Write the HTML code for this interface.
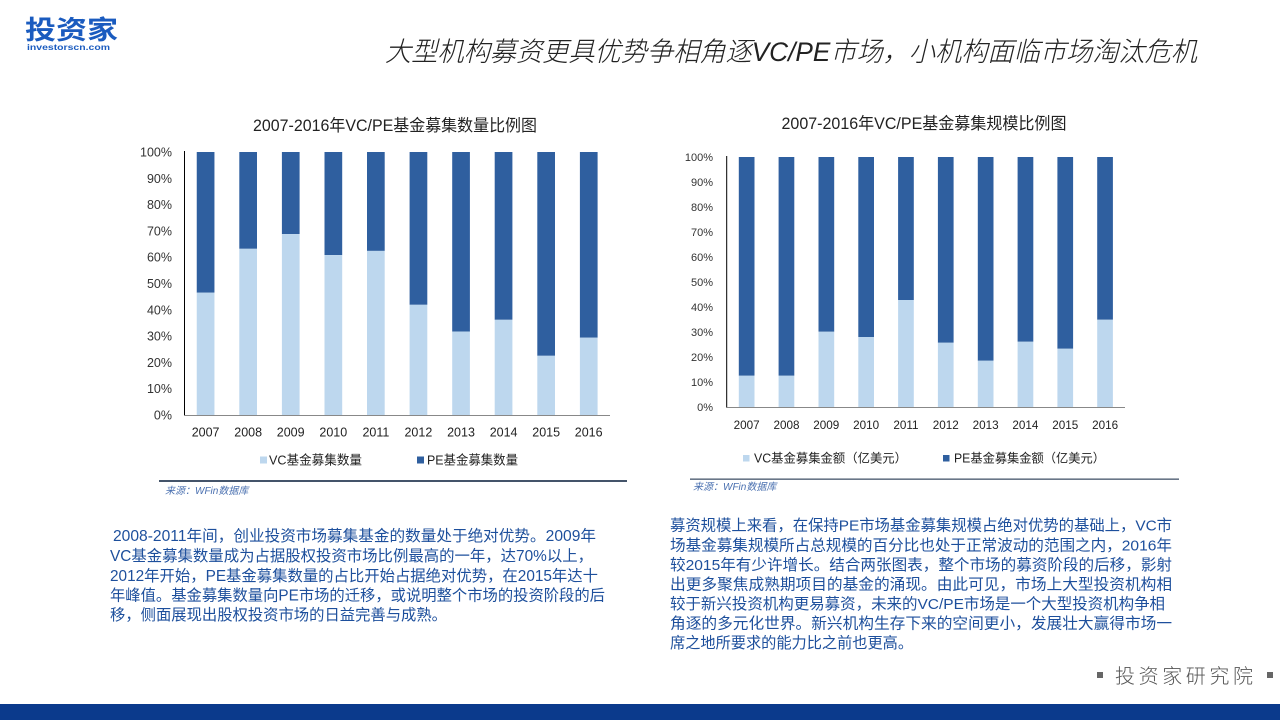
<!DOCTYPE html>
<html><head><meta charset="utf-8">
<style>
html,body{margin:0;padding:0;background:#fff;}
body{width:1280px;height:720px;overflow:hidden;position:relative;}
svg{position:absolute;left:0;top:0;}
</style></head>
<body>
<svg width="1280" height="720" viewBox="0 0 1280 720" xmlns="http://www.w3.org/2000/svg" font-family="'Liberation Sans','Noto Sans CJK SC',sans-serif">
  <!-- Logo -->
  <text x="25" y="39" font-size="26" font-weight="bold" fill="#1a5bbf" textLength="93" lengthAdjust="spacingAndGlyphs">投资家</text>
  <text x="27" y="50" font-size="8.5" font-weight="bold" fill="#1a5bbf" textLength="83" lengthAdjust="spacingAndGlyphs">investorscn.com</text>

  <!-- Main title -->
  <text x="385" y="61" font-size="27" font-style="italic" font-weight="300" fill="#222" textLength="812" lengthAdjust="spacingAndGlyphs">大型机构募资更具优势争相角逐VC/PE市场，小机构面临市场淘汰危机</text>

  <!-- LEFT CHART -->
  <text x="395" y="131" font-size="16.5" fill="#222" text-anchor="middle" textLength="284" lengthAdjust="spacingAndGlyphs">2007-2016年VC/PE基金募集数量比例图</text>
  <g font-size="12.5" fill="#333" text-anchor="end">
    <text x="172" y="419.5">0%</text>
    <text x="172" y="393.2">10%</text>
    <text x="172" y="366.9">20%</text>
    <text x="172" y="340.6">30%</text>
    <text x="172" y="314.3">40%</text>
    <text x="172" y="288">50%</text>
    <text x="172" y="261.7">60%</text>
    <text x="172" y="235.4">70%</text>
    <text x="172" y="209.1">80%</text>
    <text x="172" y="182.8">90%</text>
    <text x="172" y="156.5">100%</text>
  </g>
  <g fill="#2f5f9f">
    <rect x="196.75" y="152" width="17.7" height="140.7"/>
    <rect x="239.3" y="152" width="17.7" height="96.8"/>
    <rect x="281.9" y="152" width="17.7" height="82.1"/>
    <rect x="324.5" y="152" width="17.7" height="103.1"/>
    <rect x="367.0" y="152" width="17.7" height="98.9"/>
    <rect x="409.6" y="152" width="17.7" height="152.8"/>
    <rect x="452.2" y="152" width="17.7" height="179.6"/>
    <rect x="494.7" y="152" width="17.7" height="167.8"/>
    <rect x="537.3" y="152" width="17.7" height="203.8"/>
    <rect x="579.9" y="152" width="17.7" height="185.7"/>
  </g>
  <g fill="#bdd7ee">
    <rect x="196.75" y="292.7" width="17.7" height="122.3"/>
    <rect x="239.3" y="248.8" width="17.7" height="166.2"/>
    <rect x="281.9" y="234.1" width="17.7" height="180.9"/>
    <rect x="324.5" y="255.1" width="17.7" height="159.9"/>
    <rect x="367.0" y="250.9" width="17.7" height="164.1"/>
    <rect x="409.6" y="304.8" width="17.7" height="110.2"/>
    <rect x="452.2" y="331.6" width="17.7" height="83.4"/>
    <rect x="494.7" y="319.8" width="17.7" height="95.2"/>
    <rect x="537.3" y="355.8" width="17.7" height="59.2"/>
    <rect x="579.9" y="337.7" width="17.7" height="77.3"/>
  </g>
  <line x1="184.5" y1="151" x2="184.5" y2="415.5" stroke="#000" stroke-width="1"/>
  <line x1="184" y1="415.5" x2="610" y2="415.5" stroke="#888" stroke-width="1"/>
  <g font-size="12.5" fill="#222" text-anchor="middle">
    <text x="205.6" y="436.5">2007</text>
    <text x="248.2" y="436.5">2008</text>
    <text x="290.7" y="436.5">2009</text>
    <text x="333.3" y="436.5">2010</text>
    <text x="375.9" y="436.5">2011</text>
    <text x="418.4" y="436.5">2012</text>
    <text x="461.0" y="436.5">2013</text>
    <text x="503.6" y="436.5">2014</text>
    <text x="546.2" y="436.5">2015</text>
    <text x="588.7" y="436.5">2016</text>
  </g>
  <rect x="260" y="456.5" width="7" height="7" fill="#bdd7ee"/>
  <text x="269" y="464.5" font-size="13" fill="#222" textLength="93" lengthAdjust="spacingAndGlyphs">VC基金募集数量</text>
  <rect x="417" y="456.5" width="7" height="7" fill="#2f5f9f"/>
  <text x="427" y="464.5" font-size="13" fill="#222" textLength="91" lengthAdjust="spacingAndGlyphs">PE基金募集数量</text>
  <rect x="159" y="480" width="468" height="2" fill="#44546a"/>
  <text x="165" y="494" font-size="10" font-style="italic" fill="#4a70b0">来源：WFin数据库</text>

  <!-- RIGHT CHART -->
  <text x="924" y="129" font-size="16.5" fill="#222" text-anchor="middle" textLength="285" lengthAdjust="spacingAndGlyphs">2007-2016年VC/PE基金募集规模比例图</text>
  <g font-size="11" fill="#333" text-anchor="end">
    <text x="713" y="411">0%</text>
    <text x="713" y="386">10%</text>
    <text x="713" y="361">20%</text>
    <text x="713" y="336">30%</text>
    <text x="713" y="311">40%</text>
    <text x="713" y="286">50%</text>
    <text x="713" y="261">60%</text>
    <text x="713" y="236">70%</text>
    <text x="713" y="211">80%</text>
    <text x="713" y="186">90%</text>
    <text x="713" y="161">100%</text>
  </g>
  <g fill="#2f5f9f">
    <rect x="738.8" y="157" width="15.7" height="218.75"/>
    <rect x="778.6" y="157" width="15.7" height="218.75"/>
    <rect x="818.5" y="157" width="15.7" height="174.75"/>
    <rect x="858.3" y="157" width="15.7" height="180"/>
    <rect x="898.1" y="157" width="15.7" height="143"/>
    <rect x="937.9" y="157" width="15.7" height="185.75"/>
    <rect x="977.8" y="157" width="15.7" height="203.75"/>
    <rect x="1017.6" y="157" width="15.7" height="184.75"/>
    <rect x="1057.4" y="157" width="15.7" height="191.75"/>
    <rect x="1097.2" y="157" width="15.7" height="162.75"/>
  </g>
  <g fill="#bdd7ee">
    <rect x="738.8" y="375.75" width="15.7" height="31.25"/>
    <rect x="778.6" y="375.75" width="15.7" height="31.25"/>
    <rect x="818.5" y="331.75" width="15.7" height="75.25"/>
    <rect x="858.3" y="337" width="15.7" height="70"/>
    <rect x="898.1" y="300" width="15.7" height="107"/>
    <rect x="937.9" y="342.75" width="15.7" height="64.25"/>
    <rect x="977.8" y="360.75" width="15.7" height="46.25"/>
    <rect x="1017.6" y="341.75" width="15.7" height="65.25"/>
    <rect x="1057.4" y="348.75" width="15.7" height="58.25"/>
    <rect x="1097.2" y="319.75" width="15.7" height="87.25"/>
  </g>
  <line x1="726.7" y1="156" x2="726.7" y2="407.5" stroke="#000" stroke-width="1"/>
  <line x1="726" y1="407.5" x2="1125" y2="407.5" stroke="#888" stroke-width="1"/>
  <g font-size="11.7" fill="#222" text-anchor="middle">
    <text x="746.6" y="429">2007</text>
    <text x="786.5" y="429">2008</text>
    <text x="826.3" y="429">2009</text>
    <text x="866.1" y="429">2010</text>
    <text x="905.9" y="429">2011</text>
    <text x="945.8" y="429">2012</text>
    <text x="985.6" y="429">2013</text>
    <text x="1025.4" y="429">2014</text>
    <text x="1065.2" y="429">2015</text>
    <text x="1105.1" y="429">2016</text>
  </g>
  <rect x="743" y="455" width="6.5" height="6.5" fill="#bdd7ee"/>
  <text x="754" y="462.5" font-size="12.5" fill="#222" textLength="153" lengthAdjust="spacingAndGlyphs">VC基金募集金额（亿美元）</text>
  <rect x="943" y="455" width="6.5" height="6.5" fill="#2f5f9f"/>
  <text x="954" y="462.5" font-size="12.5" fill="#222" textLength="151" lengthAdjust="spacingAndGlyphs">PE基金募集金额（亿美元）</text>
  <rect x="690" y="478.5" width="489" height="1.3" fill="#44546a"/>
  <text x="693" y="490" font-size="10" font-style="italic" fill="#4a70b0">来源：WFin数据库</text>

  <!-- Left paragraph -->
  <g font-size="15.3" fill="#1d4f9c">
    <text x="113" y="541" textLength="483" lengthAdjust="spacingAndGlyphs">2008-2011年间，创业投资市场募集基金的数量处于绝对优势。2009年</text>
    <text x="110" y="561" textLength="483" lengthAdjust="spacingAndGlyphs">VC基金募集数量成为占据股权投资市场比例最高的一年，达70%以上，</text>
    <text x="110" y="581" textLength="488" lengthAdjust="spacingAndGlyphs">2012年开始，PE基金募集数量的占比开始占据绝对优势，在2015年达十</text>
    <text x="110" y="600.5" textLength="495" lengthAdjust="spacingAndGlyphs">年峰值。基金募集数量向PE市场的迁移，或说明整个市场的投资阶段的后</text>
    <text x="110" y="620" textLength="337" lengthAdjust="spacingAndGlyphs">移，侧面展现出股权投资市场的日益完善与成熟。</text>
  </g>

  <!-- Right paragraph -->
  <g font-size="15.2" fill="#1d4f9c">
    <text x="670" y="530.5" textLength="502" lengthAdjust="spacingAndGlyphs">募资规模上来看，在保持PE市场基金募集规模占绝对优势的基础上，VC市</text>
    <text x="670" y="550.5" textLength="502" lengthAdjust="spacingAndGlyphs">场基金募集规模所占总规模的百分比也处于正常波动的范围之内，2016年</text>
    <text x="670" y="570" textLength="502" lengthAdjust="spacingAndGlyphs">较2015年有少许增长。结合两张图表，整个市场的募资阶段的后移，影射</text>
    <text x="670" y="589.5" textLength="502" lengthAdjust="spacingAndGlyphs">出更多聚焦成熟期项目的基金的涌现。由此可见，市场上大型投资机构相</text>
    <text x="670" y="609" textLength="495" lengthAdjust="spacingAndGlyphs">较于新兴投资机构更易募资，未来的VC/PE市场是一个大型投资机构争相</text>
    <text x="670" y="628.5" textLength="502" lengthAdjust="spacingAndGlyphs">角逐的多元化世界。新兴机构生存下来的空间更小，发展壮大赢得市场一</text>
    <text x="670" y="648" textLength="243" lengthAdjust="spacingAndGlyphs">席之地所要求的能力比之前也更高。</text>
  </g>

  <!-- Footer -->
  <rect x="1097" y="672" width="6" height="6" fill="#666"/>
  <text x="1115" y="683" font-size="20" font-weight="300" fill="#555" textLength="138" lengthAdjust="spacing">投资家研究院</text>
  <rect x="1267" y="672" width="6" height="6" fill="#666"/>
  <rect x="0" y="704" width="1280" height="16" fill="#0b3a8c"/>
</svg>
</body></html>
